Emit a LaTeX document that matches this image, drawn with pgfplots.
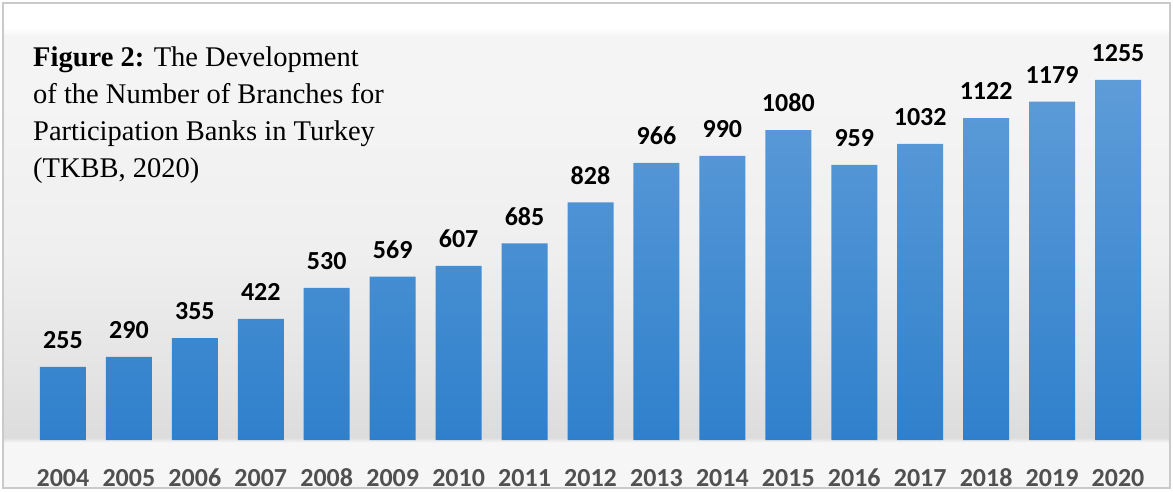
\documentclass[border=0pt]{standalone}
\usepackage{pgfplots}
\pgfplotsset{compat=1.18}
\usepackage{fontspec}
\setmainfont{Liberation Serif}
\newfontfamily\carlito{Carlito}
\usetikzlibrary{backgrounds}
\definecolor{barTop}{HTML}{5E9CD8}
\definecolor{barBot}{HTML}{2F80CC}
\definecolor{yearGray}{HTML}{505050}
\definecolor{frameGray}{HTML}{CACACA}
\definecolor{bgA}{HTML}{F6F6F6}
\definecolor{bgB}{HTML}{DCDCDC}
\definecolor{bgC}{HTML}{E3E3E3}
\definecolor{bgD}{HTML}{EFEFEF}
\definecolor{bgE}{HTML}{F4F4F4}
\pgfdeclareverticalshading{panel}{100bp}{%
  color(0bp)=(bgA); color(25bp)=(bgA); color(29.7bp)=(bgA);
  color(30.2bp)=(bgB); color(36.1bp)=(bgC); color(49.5bp)=(bgD);
  color(65bp)=(bgE); color(71.6bp)=(bgE); color(72.4bp)=(white);
  color(75bp)=(white); color(100bp)=(white)}

\begin{document}
\begin{tikzpicture}
  \useasboundingbox (-30pt,-51pt) rectangle (1143pt,440pt);
  \begin{axis}[
      scale only axis,
      width=1121pt, height=430.4pt,
      xmin=2003.5, xmax=2020.5,
      ymin=0, ymax=1500,
      enlargelimits=false,
      clip=false,
      ybar,
      bar width=46pt,
      axis line style={draw=none},
      tick style={draw=none},
      ytick=\empty,
      xtick=data,
      /pgf/number format/1000 sep={},
      /pgf/number format/assume math mode=true,
      xticklabel style={inner sep=0pt, anchor=base, yshift=-42pt,
        text=yearGray, font=\fontsize{26}{26}\selectfont\carlito\bfseries},
      nodes near coords,
      nodes near coords style={inner sep=0pt, anchor=south, yshift=18pt,
        text=black, font=\fontsize{26}{26}\selectfont\carlito\bfseries},
    ]
    \addplot[draw=none, top color=barTop, bottom color=barBot] coordinates {
      (2004,255) (2005,290) (2006,355) (2007,422) (2008,530)
      (2009,569) (2010,607) (2011,685) (2012,828) (2013,966)
      (2014,990) (2015,1080) (2016,959) (2017,1032) (2018,1122)
      (2019,1179) (2020,1255)
    };
  \end{axis}
  \begin{scope}[on background layer]
    \shade[shading=panel] (-27pt,-48pt) rectangle (1140pt,437pt);
    \draw[frameGray, line width=2pt] (-27pt,-48pt) rectangle (1140pt,437pt);
  \end{scope}
  \begin{scope}[every node/.style={anchor=base west, inner sep=0pt,
      font=\fontsize{28.5}{32}\selectfont}]
    \node at (3pt,373pt) {\textbf{Figure 2:} The Development};
    \node at (3pt,336pt) {of the Number of Branches for};
    \node at (3pt,299pt) {Participation Banks in Turkey};
    \node at (3pt,262pt) {(TKBB, 2020)};
  \end{scope}
\end{tikzpicture}
\end{document}
